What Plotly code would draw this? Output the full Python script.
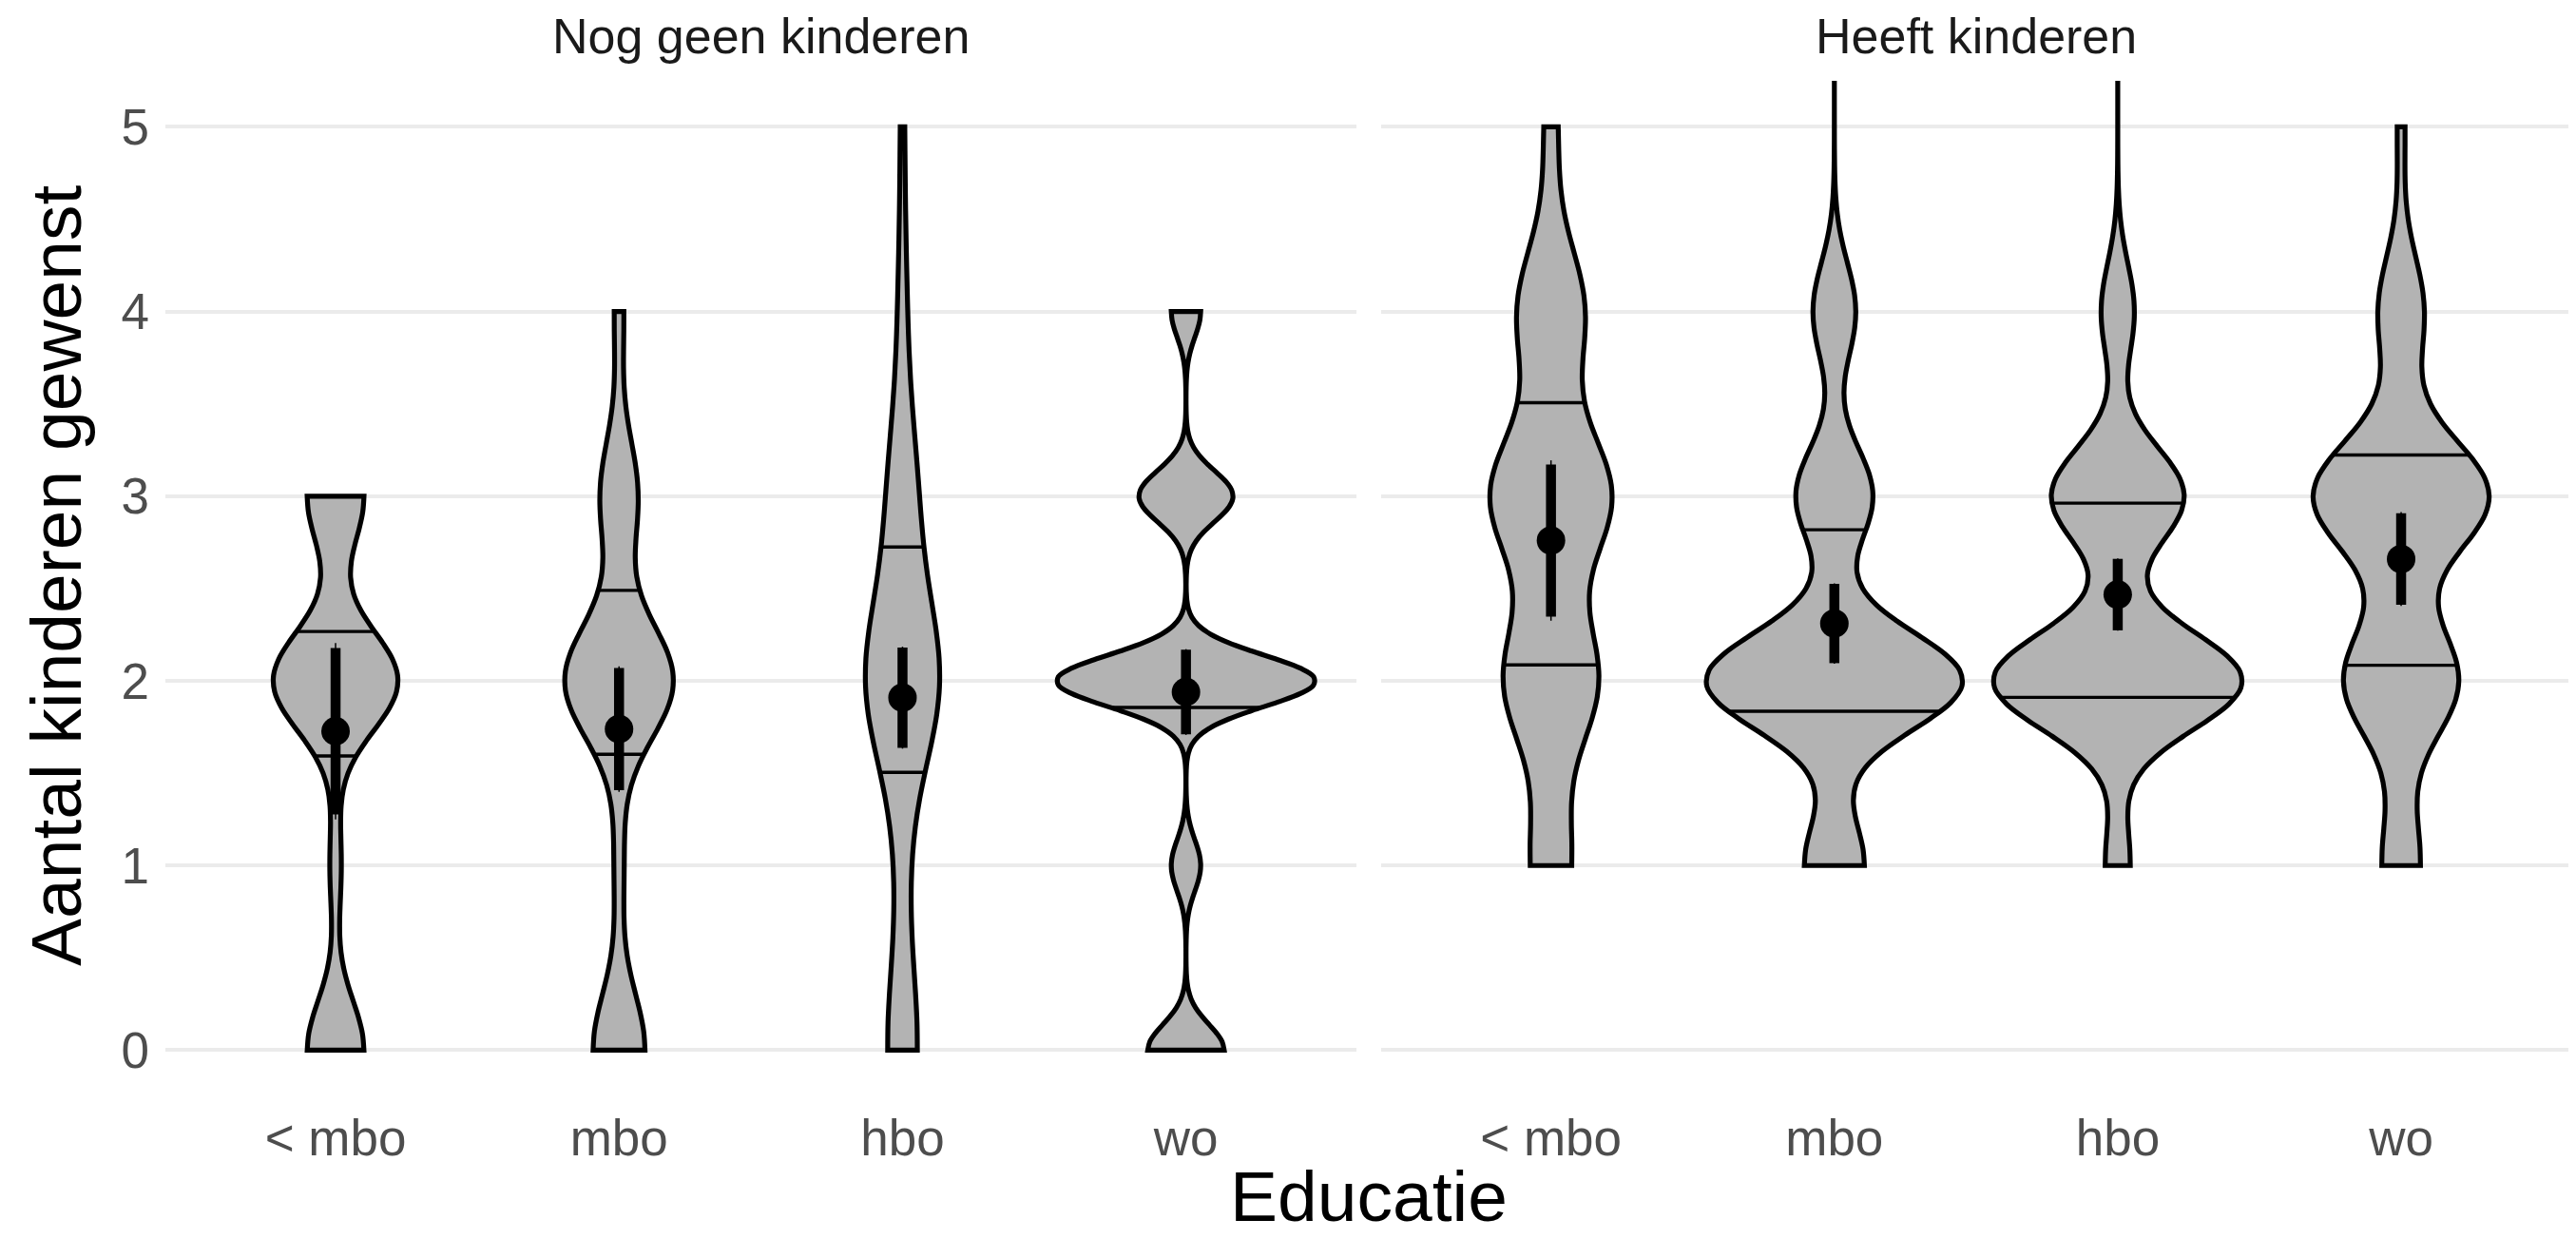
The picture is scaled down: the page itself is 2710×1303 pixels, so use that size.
import math
import numpy as np
import plotly.graph_objects as go

# ---------------- data ----------------
facets = ["Nog geen kinderen", "Heeft kinderen"]
educatie = ["< mbo", "mbo", "hbo", "wo"]
# answer values of "Aantal kinderen gewenst"
waarden = [0, 1, 2, 3, 4, 5, 10]
# number of respondents giving each value, per education level
aantal_nog_geen = {
    "< mbo": [5, 1, 11, 5, 0, 0, 0],
    "mbo":   [11, 2, 23, 8, 2, 0, 0],
    "hbo":   [15, 5, 37, 14, 4, 2, 0],
    "wo":    [13, 5, 44, 16, 5, 0, 0],
}
aantal_heeft = {
    "< mbo": [0, 3, 7, 9, 5, 1, 0],
    "mbo":   [0, 14, 60, 18, 10, 0, 1],
    "hbo":   [0, 6, 60, 32, 8, 0, 1],
    "wo":    [0, 5, 15, 23, 6, 1, 0],
}
y_ticks = [0, 1, 2, 3, 4, 5]
quantielen = [0.25, 0.75]

# ---------------- helpers ----------------
def samples(counts):
    return np.repeat(np.array(waarden, dtype=float), counts)

def bw_nrd0(x):
    hi = np.std(x, ddof=1)
    iqr = np.percentile(x, 75) - np.percentile(x, 25)
    lo = min(hi, iqr / 1.34)
    if not lo:
        lo = hi or abs(x[0]) or 1.0
    return 0.9 * lo * len(x) ** -0.2

def kde(x, bw, t):
    t = np.atleast_1d(t)[:, None]
    return np.exp(-0.5 * ((t - x[None, :]) / bw) ** 2).sum(axis=1) / (len(x) * bw * math.sqrt(2 * math.pi))

def plotly_max_kde(x, bw):
    lo, hi = x.min(), x.max()
    dist = hi - lo
    n = math.ceil(dist / (bw / 3))
    step = dist / n
    ts = []
    t = lo
    while t < hi + step / 2:
        ts.append(t)
        t += step
    return kde(x, bw, np.array(ts)).max()

def t975(df):
    z = 1.959963985
    g1 = (z**3 + z) / 4
    g2 = (5 * z**5 + 16 * z**3 + 3 * z) / 96
    g3 = (3 * z**7 + 19 * z**5 + 17 * z**3 - 15 * z) / 384
    g4 = (79 * z**9 + 776 * z**7 + 1482 * z**5 - 1920 * z**3 - 945 * z) / 92160
    return z + g1 / df + g2 / df**2 + g3 / df**3 + g4 / df**4

# ---------------- figure geometry ----------------
# the page body has an 8px margin, so the figure is 8px smaller and
# all page coordinates are shifted by 8px
OFF = 8
W, H = 2710 - OFF, 1303 - OFF

def fx(px):
    return (px - OFF) / W

def fy(py):
    return 1 - (py - OFF) / H

HALF = 0.45
x_domains = [[fx(174.1), fx(1426.6)], [fx(1452.8), fx(2704.9)]]
y_domain = [fy(1153.0), fy(84.9)]
FONT = "Liberation Sans, Arial, Helvetica, sans-serif"

fig = go.Figure()
groups = [aantal_nog_geen, aantal_heeft]

for f, data in enumerate(groups):
    xa = "x" if f == 0 else "x2"
    ya = "y" if f == 0 else "y2"
    sg = "f%d" % (f + 1)
    samp = {e: samples(data[e]) for e in educatie}
    bws = {e: bw_nrd0(samp[e]) for e in educatie}
    gmax = max(plotly_max_kde(samp[e], bws[e]) for e in educatie)

    qx, qy = [], []
    thin_x, thin_y, thick_x, thick_y, mx, my = [], [], [], [], [], []
    for i, e in enumerate(educatie):
        x = samp[e]
        bw = bws[e]
        fig.add_trace(go.Violin(
            x=[i] * len(x), y=x, name=e, xaxis=xa, yaxis=ya,
            bandwidth=bw, spanmode="hard", scalegroup=sg, scalemode="width",
            points=False, box_visible=False, meanline_visible=False,
            fillcolor="#B3B3B3", line=dict(color="black", width=5.2),
            opacity=1, showlegend=False, hoverinfo="skip", side="both"))
        # quantile segments (ggplot style: quantiles of the trimmed density)
        grid = np.linspace(x.min(), x.max(), 512)
        d = kde(x, bw, grid)
        cum = np.cumsum(d) / d.sum()
        for q in quantielen:
            yq = float(np.interp(q, cum, grid))
            hw = float(kde(x, bw, yq)[0]) / gmax * HALF
            qx += [i - hw, i + hw, None]
            qy += [yq, yq, None]
        # mean and confidence intervals
        n = len(x)
        m = x.mean()
        se = x.std(ddof=1) / math.sqrt(n)
        thin = t975(n - 1) * se
        thick = 1.959963985 * se
        thin_x += [i, i, None]
        thin_y += [m - thin, m + thin, None]
        thick_x += [i, i, None]
        thick_y += [m - thick, m + thick, None]
        mx.append(i)
        my.append(m)

    fig.add_trace(go.Scatter(x=qx, y=qy, mode="lines", xaxis=xa, yaxis=ya,
                             line=dict(color="black", width=3.4),
                             showlegend=False, hoverinfo="skip"))
    fig.add_trace(go.Scatter(x=thin_x, y=thin_y, mode="lines", xaxis=xa, yaxis=ya,
                             line=dict(color="black", width=1.5),
                             showlegend=False, hoverinfo="skip"))
    fig.add_trace(go.Scatter(x=thick_x, y=thick_y, mode="lines", xaxis=xa, yaxis=ya,
                             line=dict(color="black", width=10.5),
                             showlegend=False, hoverinfo="skip"))
    fig.add_trace(go.Scatter(x=mx, y=my, mode="markers", xaxis=xa, yaxis=ya,
                             marker=dict(color="black", size=30, line=dict(width=0)),
                             showlegend=False, hoverinfo="skip"))

xaxis_common = dict(range=[-0.6, 3.6], tickvals=list(range(len(educatie))), ticktext=educatie,
                    showgrid=False, zeroline=False, showline=False, ticks="",
                    tickfont=dict(family=FONT, size=53, color="#4D4D4D"),
                    ticklabelstandoff=8, fixedrange=True)
yaxis_common = dict(range=[-0.25, 5.25], tickvals=y_ticks, domain=y_domain,
                    showgrid=True, gridcolor="#EBEBEB", gridwidth=3.5,
                    zeroline=False, showline=False, ticks="", fixedrange=True)

fig.update_layout(
    width=W, height=H,
    margin=dict(l=0, r=0, t=0, b=0),
    paper_bgcolor="white", plot_bgcolor="white",
    violinmode="overlay", violingap=0.1, violingroupgap=0,
    showlegend=False,
    xaxis=dict(domain=x_domains[0], anchor="y", **xaxis_common),
    xaxis2=dict(domain=x_domains[1], anchor="y2", **xaxis_common),
    yaxis=dict(anchor="x", showticklabels=True,
               tickfont=dict(family=FONT, size=53, color="#4D4D4D"),
               ticklabelstandoff=16, **yaxis_common),
    yaxis2=dict(anchor="x2", showticklabels=False, **yaxis_common),
)

annotations = []
for f, name in enumerate(facets):
    annotations.append(dict(text=name, x=sum(x_domains[f]) / 2, y=fy(38),
                            xref="paper", yref="paper", xanchor="center", yanchor="middle",
                            showarrow=False, font=dict(family=FONT, size=52, color="#1A1A1A")))
annotations.append(dict(text="Aantal kinderen gewenst", x=fx(59), y=fy(605),
                        xref="paper", yref="paper", xanchor="center", yanchor="middle",
                        textangle=-90, showarrow=False,
                        font=dict(family=FONT, size=75, color="black")))
annotations.append(dict(text="Educatie", x=fx((174.1 + 2704.9) / 2), y=fy(1258),
                        xref="paper", yref="paper", xanchor="center", yanchor="middle",
                        showarrow=False, font=dict(family=FONT, size=75, color="black")))
fig.update_layout(annotations=annotations)

fig.write_html("out.html")
